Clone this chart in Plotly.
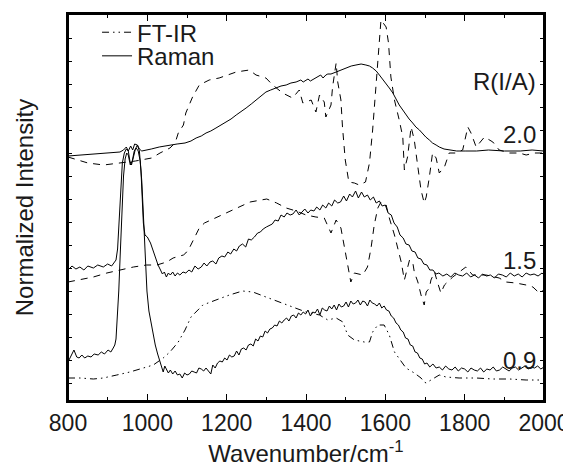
import plotly.graph_objects as go

# Spectra (wavenumber in cm-1, intensity in arbitrary stacked units)

# --- R(I/A) = 2.0 ---
raman_20_x = [800, 830, 864, 900, 931, 940, 947, 952, 958, 963, 968, 975, 980, 986, 995, 1010, 1030, 1057,
              1075, 1095, 1110, 1123, 1136, 1148, 1160, 1173, 1186, 1198, 1211, 1224, 1236, 1249, 1262, 1274,
              1287, 1299, 1311, 1324, 1337, 1350, 1362, 1375, 1387, 1393, 1400, 1405, 1411, 1425, 1437, 1443,
              1450, 1455, 1463, 1476, 1488, 1501, 1514, 1526, 1539, 1551, 1560, 1568, 1577, 1585, 1593, 1602,
              1610, 1619, 1627, 1635, 1644, 1652, 1660, 1669, 1677, 1686, 1694, 1702, 1711, 1719, 1728, 1736,
              1748, 1761, 1780, 1803, 1830, 1860, 1900, 1940, 1970, 2000]
raman_20_y = [245, 246, 247, 248, 249, 251, 254, 250, 255, 251, 257, 256, 252, 250, 251, 252, 254, 256,
              257, 258, 260, 263, 265, 268, 270, 273, 276, 279, 282, 286, 289, 293, 297, 301,
              305, 309, 311, 313, 315, 316, 318, 319, 321, 319, 321, 322, 320, 323, 326, 323,
              326, 327, 327, 329, 331, 333, 335, 336, 337, 336, 335, 333, 330, 326, 322, 318,
              313, 308, 302, 296, 291, 286, 282, 278, 274, 271, 267, 264, 261, 258, 256, 254,
              252, 251, 250, 250, 250, 251, 250, 250, 251, 250]

ftir_20_x = [800, 850, 890, 930, 970, 1011, 1032, 1057, 1070, 1078, 1091, 1097, 1114, 1131, 1156, 1181,
             1224, 1257, 1274, 1299, 1316, 1341, 1366, 1383, 1392, 1400, 1413, 1425, 1434, 1446, 1450,
             1463, 1467, 1476, 1480, 1488, 1492, 1499, 1508, 1522, 1534, 1550, 1560, 1568, 1576, 1585,
             1589, 1602, 1608, 1614, 1623, 1635, 1644, 1648, 1656, 1665, 1673, 1682, 1690, 1698, 1703,
             1711, 1719, 1728, 1736, 1749, 1761, 1778, 1795, 1808, 1816, 1829, 1850, 1871, 1887, 1913,
             1938, 1955, 1976, 2000]
ftir_20_y = [244, 238, 236, 238, 240, 243, 248, 253, 258, 268, 276, 288, 304, 316, 321, 323,
             329, 331, 326, 323, 316, 308, 303, 311, 298, 299, 301, 289, 306, 299, 284,
             296, 314, 338, 319, 301, 274, 241, 219, 218, 216, 219, 238, 271, 314, 361,
             381, 374, 358, 324, 301, 281, 264, 231, 244, 274, 261, 234, 211, 198, 204,
             224, 248, 243, 228, 234, 248, 248, 251, 274, 268, 254, 264, 259, 251, 248,
             248, 246, 248, 248]

# --- R(I/A) = 1.5 ---
raman_15_x = [800, 810, 820, 830, 840, 850, 864, 875, 889, 900, 910, 916, 921, 925,
              929, 933, 937, 942, 947, 952, 956, 960, 965, 970, 975, 980, 984, 987, 990, 994, 1000,
              1008, 1015, 1021, 1027, 1032, 1038, 1043, 1048, 1053, 1058, 1064, 1070, 1076, 1082, 1090,
              1097, 1105, 1112, 1120, 1128, 1136, 1143, 1150, 1158, 1165, 1173, 1180, 1188, 1195, 1203,
              1210, 1218, 1225, 1232, 1240, 1248, 1255, 1262, 1270, 1278, 1285, 1292, 1300, 1308, 1315,
              1322, 1330, 1337, 1345, 1352, 1360, 1367, 1375, 1383, 1390, 1397, 1405, 1412, 1420, 1427,
              1435, 1442, 1450, 1457, 1465, 1472, 1480, 1487, 1495, 1502, 1510, 1517, 1525, 1532, 1540,
              1547, 1555, 1562, 1570, 1577, 1585, 1592, 1600, 1607, 1615, 1622, 1630, 1637, 1645, 1652,
              1660, 1667, 1675, 1682, 1690, 1697, 1705, 1712, 1720, 1728, 1735, 1745, 1755, 1765,
              1775, 1785, 1795, 1805, 1815, 1825, 1835, 1845, 1855, 1865, 1875, 1885, 1895, 1905, 1915,
              1925, 1935, 1945, 1955, 1965, 1975, 1985, 1995, 2000]
raman_15_y = [131, 135, 132, 134, 131, 135, 133, 136, 134, 137, 135, 139, 141, 152,
              180, 215, 238, 248, 252, 250, 240, 236, 245, 252, 256, 250, 230, 200, 178, 166, 164,
              158, 150, 141, 136, 132, 127, 129, 124, 128, 126, 129, 125, 128, 126, 129,
              128, 131, 129, 135, 132, 134, 138, 135, 139, 140, 137, 143, 145, 144, 149,
              147, 152, 150, 155, 157, 154, 162, 161, 164, 168, 169, 172, 174, 176, 177,
              181, 180, 186, 184, 188, 186, 187, 191, 186, 189, 192, 188, 191, 190, 194,
              191, 196, 193, 198, 195, 201, 198, 199, 205, 200, 207, 204, 210, 203, 209,
              204, 206, 201, 204, 198, 200, 195, 196, 188, 186, 178, 174, 166, 163, 157,
              156, 150, 149, 143, 142, 137, 136, 131, 131, 127, 128, 125, 127, 124,
              128, 126, 125, 128, 124, 126, 123, 127, 125, 126, 123, 127, 126, 124, 128,
              125, 127, 124, 128, 126, 127, 125, 128, 126]

ftir_15_x = [800, 830, 864, 898, 931, 965, 998, 1024, 1049, 1065, 1091, 1097, 1106, 1118, 1131, 1144,
             1173, 1215, 1259, 1301, 1326, 1350, 1375, 1400, 1425, 1446, 1463, 1476, 1488, 1497, 1505,
             1513, 1522, 1543, 1555, 1564, 1572, 1581, 1589, 1602, 1610, 1623, 1640, 1648, 1661, 1669,
             1673, 1682, 1690, 1698, 1703, 1711, 1715, 1724, 1732, 1740, 1749, 1770, 1803, 1820, 1854,
             1887, 1904, 1929, 1955, 1972, 1988, 2000]
ftir_15_y = [119, 121, 124, 128, 131, 134, 136, 136, 139, 143, 146, 148, 153, 163, 173, 178,
             183, 191, 199, 202, 198, 193, 190, 186, 184, 183, 168, 181, 173, 154, 136,
             119, 128, 126, 134, 153, 176, 193, 199, 196, 183, 166, 139, 121, 141, 139,
             129, 119, 106, 96, 109, 113, 121, 129, 118, 108, 116, 124, 134, 126, 126,
             123, 119, 118, 116, 114, 108, 111]

# --- R(I/A) = 0.9 ---
raman_09_x = [800, 808, 815, 822, 828, 835, 842, 850, 858, 866, 876, 884, 892, 901,
              908, 914, 918, 921, 924, 928, 932, 936, 940, 944, 948, 952, 957, 962, 967, 972, 977, 982, 986, 989, 992, 995,
              999, 1004, 1009, 1015, 1020, 1026, 1031, 1036, 1040, 1044, 1048,
              1053, 1058, 1064, 1070, 1076, 1082, 1088, 1094, 1100, 1106, 1112, 1118, 1124, 1130, 1136, 1142,
              1148, 1154, 1160, 1165, 1171, 1177, 1183, 1189, 1195, 1201, 1207, 1213, 1219, 1225, 1231, 1237,
              1243, 1249, 1255, 1261, 1267, 1273, 1279, 1285, 1291, 1297, 1303, 1309, 1315, 1321, 1327, 1333,
              1339, 1345, 1351, 1357, 1363, 1369, 1375, 1381, 1387, 1393, 1399, 1405, 1411, 1417, 1423, 1429,
              1435, 1441, 1447, 1453, 1459, 1465, 1471, 1477, 1483, 1489, 1495, 1501, 1507, 1513, 1519, 1525,
              1531, 1537, 1543, 1549, 1555, 1561, 1567, 1573, 1579, 1585, 1591, 1597, 1603, 1609, 1615, 1621,
              1627, 1633, 1639, 1645, 1651, 1657, 1663, 1669, 1675, 1681, 1687, 1693, 1699, 1705, 1712,
              1720, 1728, 1736, 1744, 1752, 1760, 1768, 1776, 1784, 1792, 1800, 1808, 1816, 1824, 1832,
              1840, 1848, 1856, 1864, 1872, 1880, 1888, 1896, 1904, 1912, 1920, 1928, 1936, 1944, 1952,
              1960, 1968, 1976, 1984, 1992, 2000]
raman_09_y = [39, 46, 51, 44, 43, 46, 43, 45, 44, 47, 46, 49, 47, 51,
              49, 53, 56, 62, 80, 110, 150, 195, 225, 242, 248, 246, 236, 240, 250, 253, 250, 240, 220, 195, 165, 135,
              110, 90, 78, 66, 56, 47, 40, 33, 29, 35, 31,
              28, 31, 27, 30, 26, 27, 23, 28, 26, 27, 30, 29, 28, 33, 32, 30,
              33, 30, 27, 36, 33, 38, 40, 39, 43, 41, 46, 44, 45, 50, 46, 52,
              53, 51, 56, 57, 55, 62, 60, 65, 64, 70, 68, 72, 73, 76, 75, 80,
              78, 81, 83, 80, 85, 86, 83, 88, 86, 89, 87, 91, 85, 89, 88, 92,
              86, 93, 91, 90, 95, 92, 96, 91, 97, 94, 95, 99, 94, 100, 97, 98,
              101, 96, 100, 99, 95, 101, 98, 97, 95, 98, 93, 95, 91, 90, 85, 83,
              78, 76, 71, 69, 63, 62, 56, 55, 49, 48, 43, 42, 37, 38, 34,
              37, 33, 34, 31, 35, 32, 31, 34, 30, 33, 32, 29, 33, 31, 30,
              33, 29, 32, 31, 34, 30, 31, 34, 32, 30, 33, 34, 31, 33, 35,
              32, 34, 33, 35, 32, 34]

ftir_09_x = [800, 830, 864, 889, 923, 956, 990, 1015, 1040, 1057, 1078, 1095, 1110, 1123, 1140, 1173,
             1207, 1240, 1266, 1299, 1333, 1366, 1400, 1434, 1455, 1476, 1493, 1505, 1522, 1547, 1560,
             1568, 1581, 1597, 1610, 1623, 1640, 1652, 1673, 1690, 1698, 1703, 1715, 1736, 1753, 1786,
             1829, 1871, 1913, 1955, 1989, 2000]
ftir_09_y = [23, 23, 22, 23, 26, 29, 33, 36, 43, 49, 59, 71, 84, 89, 96, 101,
             106, 110, 109, 104, 99, 94, 89, 86, 81, 83, 79, 66, 61, 59, 59,
             69, 76, 76, 66, 49, 39, 33, 28, 23, 19, 18, 21, 26, 24, 23,
             23, 22, 22, 21, 21, 21]

ratio_labels = ["2.0", "1.5", "0.9"]
ratio_label_y = [267, 141, 41]

font_family = "Arial, 'Liberation Sans', sans-serif"
ink = "#1a1a1a"
fs = 24
dash_ir = "7px,6px"
dash_ir_dd = "7px,4px,1.5px,4px,1.5px,4px"

fig = go.Figure()

# the two legend entries, each in its own small legend box
fig.add_trace(go.Scatter(x=ftir_09_x, y=ftir_09_y, mode="lines", name="FT-IR", legend="legend",
                         line=dict(color="black", width=1, dash=dash_ir_dd)))
fig.add_trace(go.Scatter(x=raman_20_x, y=raman_20_y, mode="lines", name="Raman", legend="legend2",
                         line=dict(color="black", width=1)))

fig.add_trace(go.Scatter(x=ftir_20_x, y=ftir_20_y, mode="lines", showlegend=False,
                         line=dict(color="black", width=1, dash=dash_ir)))
fig.add_trace(go.Scatter(x=raman_15_x, y=raman_15_y, mode="lines", showlegend=False,
                         line=dict(color="black", width=1)))
fig.add_trace(go.Scatter(x=ftir_15_x, y=ftir_15_y, mode="lines", showlegend=False,
                         line=dict(color="black", width=1, dash=dash_ir)))
fig.add_trace(go.Scatter(x=raman_09_x, y=raman_09_y, mode="lines", showlegend=False,
                         line=dict(color="black", width=1)))

# ratio labels on the right
fig.add_annotation(x=0.988, xref="paper", y=320, text="R(I/A)", showarrow=False,
                   xanchor="right", yanchor="middle", font=dict(size=fs, color=ink))
for lab, yy in zip(ratio_labels, ratio_label_y):
    fig.add_annotation(x=0.988, xref="paper", y=yy, text=lab, showarrow=False,
                       xanchor="right", yanchor="middle", font=dict(size=fs, color=ink))

# plot frame
fig.add_shape(type="rect", xref="paper", yref="paper", x0=0, x1=1, y0=0, y1=1,
              line=dict(color="black", width=2), layer="above")

# legends sit in the top-left corner; margins are fixed so they don't push anything
leg = dict(xanchor="left", yanchor="top", bgcolor="rgba(0,0,0,0)",
           font=dict(size=fs, color=ink), itemwidth=30)
fig.update_layout(
    width=571, height=471,
    # the page body adds an 8px offset, so the margins are shifted to compensate
    margin=dict(l=60, r=35, t=6, b=78, autoexpand=False),
    paper_bgcolor="white", plot_bgcolor="white",
    font=dict(family=font_family, size=fs, color=ink),
    showlegend=True,
    legend=dict(leg, x=0.061, y=1.01),
    legend2=dict(leg, x=0.061, y=0.949),
)
fig.update_xaxes(
    range=[800, 2000], tick0=800, dtick=200,
    ticks="inside", ticklen=7, tickwidth=1, tickcolor="black",
    minor=dict(dtick=100, ticks="inside", ticklen=4, tickcolor="black"),
    showline=True, linecolor="black", linewidth=2, mirror="allticks",
    showgrid=False, zeroline=False, automargin=False,
    tickfont=dict(size=23, color=ink),
    title=dict(text="Wavenumber/cm<sup>-1</sup>", font=dict(size=fs, color=ink), standoff=11),
)
fig.update_yaxes(
    range=[0, 387], tick0=18, dtick=23,
    ticks="inside", ticklen=4, tickwidth=1, tickcolor="black",
    showticklabels=False,
    showline=True, linecolor="black", linewidth=2, mirror="allticks",
    showgrid=False, zeroline=False, automargin=False,
    title=dict(text="Normalized Intensity", font=dict(size=fs, color=ink), standoff=26),
)

fig.write_html("out.html")
